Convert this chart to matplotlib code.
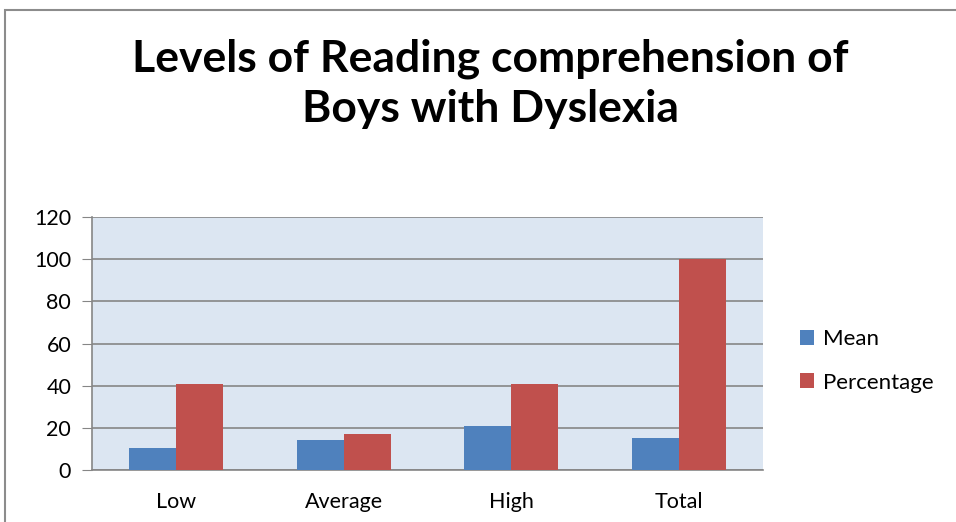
import numpy as np
import matplotlib.pyplot as plt
from matplotlib.patches import Rectangle

categories = ["Low", "Average", "High", "Total"]
mean_vals = [10.3, 14, 21, 15.3]
pct_vals = [41, 17.3, 41, 100]
y_ticks = [0, 20, 40, 60, 80, 100, 120]

fig = plt.figure(figsize=(9.56, 5.22), dpi=100)
ax = fig.add_axes([92 / 956, 1 - 470 / 522, 671 / 956, 253 / 522])

x = np.arange(len(categories))
w = 0.28
ax.bar(x - w / 2, mean_vals, w, color="#4f81bd", label="Mean", zorder=3)
ax.bar(x + w / 2, pct_vals, w, color="#c0504d", label="Percentage", zorder=3)

ax.set_facecolor("#dce6f2")
ax.set_xlim(-0.5, 3.5)
ax.set_ylim(0, 120)
ax.set_yticks(y_ticks)
ax.set_xticks(x)
ax.set_xticklabels(categories)
ax.yaxis.grid(True, color="#868686", linewidth=1.2, zorder=0)
ax.tick_params(axis="y", length=7, color="#868686", labelsize=15.5, pad=8)
ax.tick_params(axis="x", length=0, labelsize=15.5, pad=16)
for lab in ax.get_xticklabels() + ax.get_yticklabels():
    lab.set_fontfamily("Lato")
for s in ["top", "right"]:
    ax.spines[s].set_visible(False)
ax.spines["left"].set_color("#868686")
ax.spines["bottom"].set_color("#868686")
ax.spines["left"].set_linewidth(1.2)
ax.spines["bottom"].set_linewidth(1.2)

fig.legend(loc="center left", bbox_to_anchor=(780 / 956, 1 - 361 / 522),
           frameon=False, prop={"family": "Lato", "size": 16},
           handlelength=0.65, handleheight=0.65, handletextpad=0.4,
           labelspacing=1.05)

fig.text(0.513, 1 - 84 / 522, "Levels of Reading comprehension of\nBoys with Dyslexia",
         ha="center", va="center", fontsize=32, fontweight="bold",
         family="Lato", linespacing=1.3)

# outer chart border
fig.patches.append(Rectangle((5 / 956, -0.1), 1.1, 1 - 10 / 522 + 0.1,
                             transform=fig.transFigure, fill=False,
                             edgecolor="#8c8c8c", linewidth=1.5))

fig.savefig("out.png", dpi=100)
